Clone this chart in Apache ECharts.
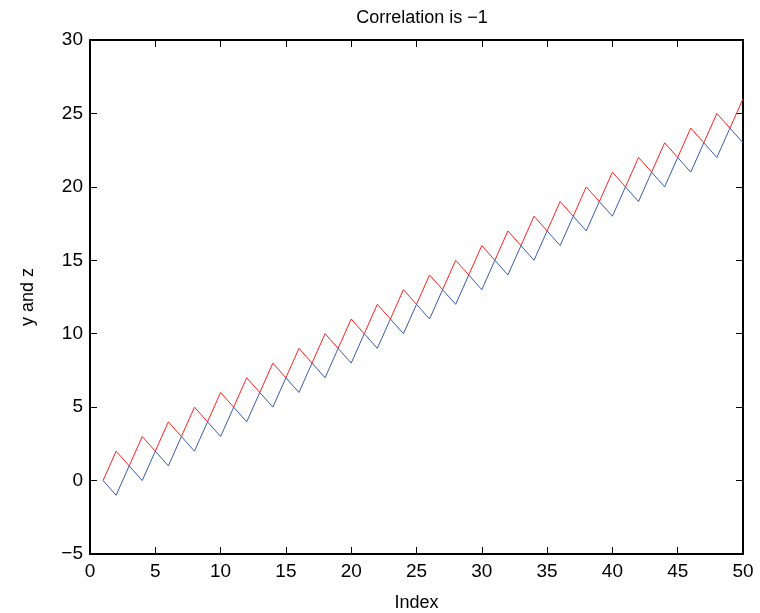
<!DOCTYPE html>
<html><head><meta charset="utf-8">
<script src="https://cdn.jsdelivr.net/npm/echarts@6/dist/echarts.min.js"></script>
<style>html,body{margin:0;padding:0;background:#fff}#c{width:760px;height:613px}</style>
</head><body><div id="c"></div>
<script>
const indexValues = [1,2,3,4,5,6,7,8,9,10,11,12,13,14,15,16,17,18,19,20,21,22,23,24,25,26,27,28,29,30,31,32,33,34,35,36,37,38,39,40,41,42,43,44,45,46,47,48,49,50];
const yValues = [0,2,1,3,2,4,3,5,4,6,5,7,6,8,7,9,8,10,9,11,10,12,11,13,12,14,13,15,14,16,15,17,16,18,17,19,18,20,19,21,20,22,21,23,22,24,23,25,24,26];
const zValues = [0,-1,1,0,2,1,3,2,4,3,5,4,6,5,7,6,8,7,9,8,10,9,11,10,12,11,13,12,14,13,15,14,16,15,17,16,18,17,19,18,20,19,21,20,22,21,23,22,24,23];
const titleText = 'Correlation is \u22121';
const xName = 'Index';
const yName = 'y and z';

const FONT = '"Liberation Sans", Arial, Helvetica, sans-serif';
const fmt = v => String(v).replace('-', '\u2212');
const chart = echarts.init(document.getElementById('c'));
const axisCommon = {
  axisLine: {show: true, onZero: false, lineStyle: {color: '#000', width: 2}},
  axisTick: {show: true, inside: true, length: 7, lineStyle: {color: '#000', width: 1}},
  splitLine: {show: false}
};
chart.setOption({
  animation: false,
  backgroundColor: '#fff',
  title: {text: titleText, left: 417, top: 4, textAlign: 'center',
    textStyle: {fontFamily: FONT, fontSize: 18, fontWeight: 'normal', color: '#000'}},
  grid: {left: 90, right: 17, top: 40, bottom: 59, containLabel: false, outerBoundsMode: 'none'},
  xAxis: [
    Object.assign({type: 'value', min: 0, max: 50, interval: 5, position: 'bottom',
      name: xName, nameLocation: 'middle', nameGap: 40,
      nameTextStyle: {fontFamily: FONT, fontSize: 18, color: '#000'},
      axisLabel: {fontFamily: FONT, fontSize: 19, color: '#000', margin: 8, formatter: fmt}}, axisCommon),
    Object.assign({type: 'value', min: 0, max: 50, interval: 5, position: 'top',
      axisLabel: {show: false}}, axisCommon)
  ],
  yAxis: [
    Object.assign({type: 'value', min: -5, max: 30, interval: 5, position: 'left',
      name: yName, nameLocation: 'middle', nameGap: 53, nameRotate: 90,
      nameTextStyle: {fontFamily: FONT, fontSize: 18, color: '#000'},
      axisLabel: {fontFamily: FONT, fontSize: 19, color: '#000', margin: 7, formatter: fmt}}, axisCommon),
    Object.assign({type: 'value', min: -5, max: 30, interval: 5, position: 'right',
      axisLabel: {show: false}}, axisCommon)
  ],
  series: [
    {type: 'line', name: 'y', data: indexValues.map((x, i) => [x, yValues[i]]),
      showSymbol: false, lineStyle: {color: '#ff2020', width: 1}, itemStyle: {color: '#ff2020'}},
    {type: 'line', name: 'z', data: indexValues.map((x, i) => [x, zValues[i]]),
      showSymbol: false, lineStyle: {color: '#3a5ab0', width: 1}, itemStyle: {color: '#3a5ab0'}}
  ]
});
</script></body></html>
